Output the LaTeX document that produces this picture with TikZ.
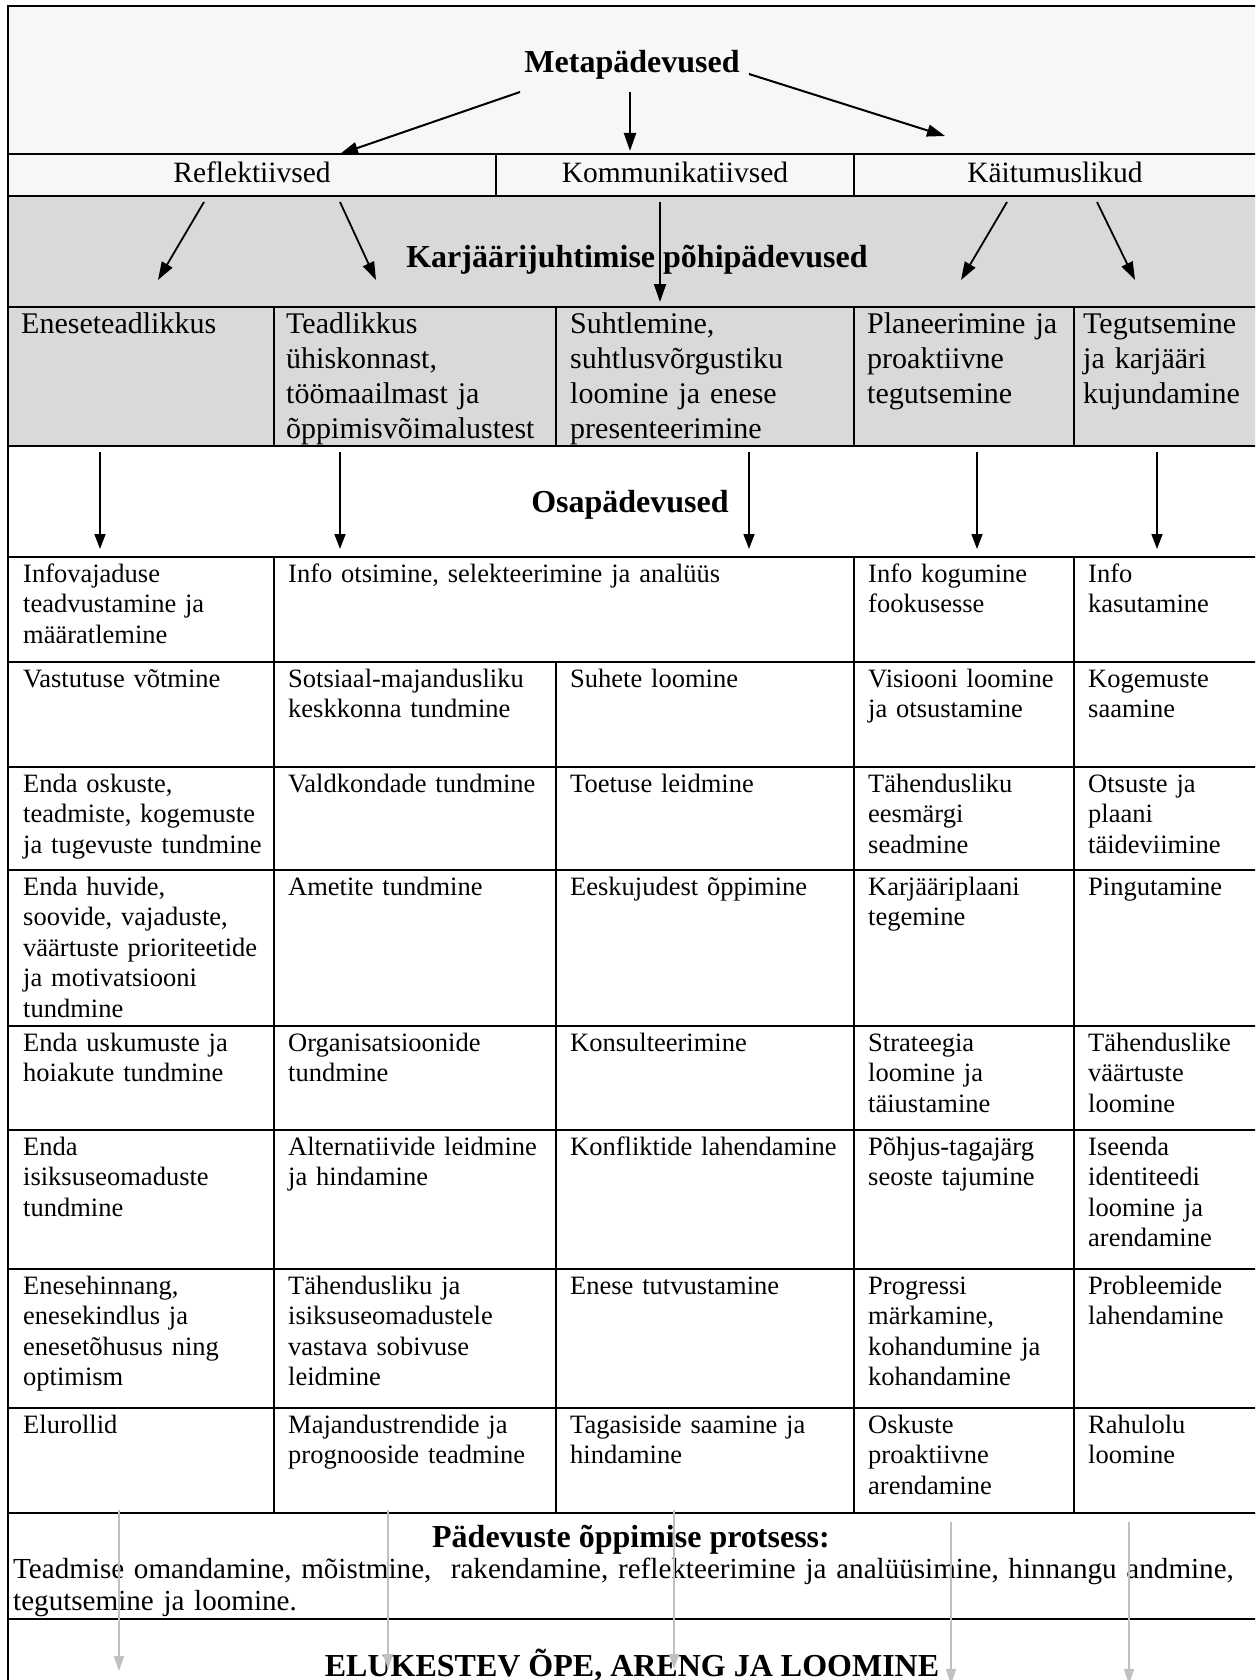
\documentclass[tikz,border=0pt]{standalone}
\usepackage{fontspec}
\setmainfont{Liberation Serif}
\usetikzlibrary{arrows.meta,positioning}

\definecolor{metagray}{HTML}{F7F7F7}
\definecolor{pohigray}{HTML}{D9D9D9}
\definecolor{protsgray}{HTML}{C0C0C0}

\newcommand{\bodyfont}{\fontsize{26.5}{30.6}\selectfont}
\newcommand{\headfont}{\fontsize{30}{35}\selectfont}
\newcommand{\titlefont}{\fontsize{32}{36}\selectfont\bfseries}

\begin{document}
\begin{tikzpicture}[x=1pt,y=-1pt,
  hline/.style={line width=2.4pt},
  vline/.style={line width=1.6pt},
  cell/.style={anchor=base west,inner sep=0pt,align=left,text width=300pt,font=\bodyfont},
  headcell/.style={anchor=base west,inner sep=0pt,align=left,text width=300pt,font=\headfont},
  title/.style={anchor=base,inner sep=0pt,font=\titlefont},
  blackarrow/.style={line width=2pt,-{Triangle[length=18pt,width=12pt]}},
  osaarrow/.style={line width=1.6pt,-{Triangle[length=15pt,width=11pt]}},
  protsarrow/.style={draw=protsgray,line width=1.8pt,-{Triangle[length=15pt,width=10pt]}}]
  \useasboundingbox (0,0) rectangle (1255,1680);
  \clip (0,0) rectangle (1255,1680);

  % backgrounds
  \fill[white] (0,0) rectangle (1255,1680);
  \fill[metagray] (8,6) rectangle (1262,196);
  \fill[pohigray] (8,196) rectangle (1262,446);

  % table lines
  \foreach \y in {6,154,196,446,557,662,767,870,1026,1130,1269,1408,1513,1619}
    \draw[hline] (8,\y) -- (1262,\y);
  \draw[vline] (8,307) -- (1262,307);
  \draw[line width=2.2pt] (8,5) -- (8,1685);
  \draw[vline] (496,154) -- (496,196);
  \draw[vline] (854,154) -- (854,196);
  \foreach \x in {274,556,854,1074}
    \draw[vline] (\x,307) -- (\x,446);
  \draw[vline] (274,557) -- (274,1513);
  \draw[vline] (556,662) -- (556,1513);
  \draw[vline] (854,557) -- (854,1513);
  \draw[vline] (1074,557) -- (1074,1513);

  % titles
  \node[title] (meta) at (632,73) {Metapädevused};
  \node[anchor=base,inner sep=0pt,font=\fontsize{29.5}{34}\selectfont] (refl) at (252,183) {Reflektiivsed};
  \node[anchor=base,inner sep=0pt,font=\fontsize{29.5}{34}\selectfont] (komm) at (675,183) {Kommunikatiivsed};
  \node[anchor=base,inner sep=0pt,font=\fontsize{29.5}{34}\selectfont] (kait) at (1055,183) {Käitumuslikud};
  \node[title] (pohi) at (637,267) {Karjäärijuhtimise põhipädevused};
  \node[title] (osa) at (630,512) {Osapädevused};

  % pohipadevused
  \node[headcell] (p1) at (21,333) {Eneseteadlikkus};
  \node[headcell] (p2) at (286,333) {Teadlikkus\\ühiskonnast,\\töömaailmast ja\\õppimisvõimalustest};
  \node[headcell] (p3) at (570,333) {Suhtlemine,\\suhtlusvõrgustiku\\loomine ja enese\\presenteerimine};
  \node[headcell] (p4) at (867,333) {Planeerimine ja\\proaktiivne\\tegutsemine};
  \node[headcell] (p5) at (1083,333) {Tegutsemine\\ja karjääri\\kujundamine};

  % osapadevused
  \node[cell] (a1) at (23,582) {Infovajaduse\\teadvustamine ja\\määratlemine};
  \node[cell,text width=560pt] (a2) at (288,582) {Info otsimine, selekteerimine ja analüüs};
  \node[cell] (a4) at (868,582) {Info kogumine\\fookusesse};
  \node[cell] (a5) at (1088,582) {Info\\kasutamine};

  \node[cell] (b1) at (23,687) {Vastutuse võtmine};
  \node[cell] (b2) at (288,687) {Sotsiaal-majandusliku\\keskkonna tundmine};
  \node[cell] (b3) at (570,687) {Suhete loomine};
  \node[cell] (b4) at (868,687) {Visiooni loomine\\ja otsustamine};
  \node[cell] (b5) at (1088,687) {Kogemuste\\saamine};

  \node[cell] (c1) at (23,792) {Enda oskuste,\\teadmiste, kogemuste\\ja tugevuste tundmine};
  \node[cell] (c2) at (288,792) {Valdkondade tundmine};
  \node[cell] (c3) at (570,792) {Toetuse leidmine};
  \node[cell] (c4) at (868,792) {Tähendusliku\\eesmärgi\\seadmine};
  \node[cell] (c5) at (1088,792) {Otsuste ja\\plaani\\täideviimine};

  \node[cell] (d1) at (23,895) {Enda huvide,\\soovide, vajaduste,\\väärtuste prioriteetide\\ja motivatsiooni\\tundmine};
  \node[cell] (d2) at (288,895) {Ametite tundmine};
  \node[cell] (d3) at (570,895) {Eeskujudest õppimine};
  \node[cell] (d4) at (868,895) {Karjääriplaani\\tegemine};
  \node[cell] (d5) at (1088,895) {Pingutamine};

  \node[cell] (e1) at (23,1051) {Enda uskumuste ja\\hoiakute tundmine};
  \node[cell] (e2) at (288,1051) {Organisatsioonide\\tundmine};
  \node[cell] (e3) at (570,1051) {Konsulteerimine};
  \node[cell] (e4) at (868,1051) {Strateegia\\loomine ja\\täiustamine};
  \node[cell] (e5) at (1088,1051) {Tähenduslike\\väärtuste\\loomine};

  \node[cell] (f1) at (23,1155) {Enda\\isiksuseomaduste\\tundmine};
  \node[cell] (f2) at (288,1155) {Alternatiivide leidmine\\ja hindamine};
  \node[cell] (f3) at (570,1155) {Konfliktide lahendamine};
  \node[cell] (f4) at (868,1155) {Põhjus-tagajärg\\seoste tajumine};
  \node[cell] (f5) at (1088,1155) {Iseenda\\identiteedi\\loomine ja\\arendamine};

  \node[cell] (g1) at (23,1294) {Enesehinnang,\\enesekindlus ja\\enesetõhusus ning\\optimism};
  \node[cell] (g2) at (288,1294) {Tähendusliku ja\\isiksuseomadustele\\vastava sobivuse\\leidmine};
  \node[cell] (g3) at (570,1294) {Enese tutvustamine};
  \node[cell] (g4) at (868,1294) {Progressi\\märkamine,\\kohandumine ja\\kohandamine};
  \node[cell] (g5) at (1088,1294) {Probleemide\\lahendamine};

  \node[cell] (h1) at (23,1433) {Elurollid};
  \node[cell] (h2) at (288,1433) {Majandustrendide ja\\prognooside teadmine};
  \node[cell] (h3) at (570,1433) {Tagasiside saamine ja\\hindamine};
  \node[cell] (h4) at (868,1433) {Oskuste\\proaktiivne\\arendamine};
  \node[cell] (h5) at (1088,1433) {Rahulolu\\loomine};

  % protsess
  \node[title] (prots) at (631,1547) {Pädevuste õppimise protsess:};
  \node[cell,text width=1250pt,font=\fontsize{29.1}{32}\selectfont] (protstxt) at (13,1578) {Teadmise omandamine, mõistmine,\ \ rakendamine, reflekteerimine ja analüüsimine, hinnangu andmine,\\tegutsemine ja loomine.};
  \node[title] (elu) at (632,1676) {ELUKESTEV ÕPE, ARENG JA LOOMINE};

  % arrows
  \coordinate (meta-l) at (520,92);  \coordinate (refl-t) at (340,154);
  \coordinate (meta-m) at (630,92);  \coordinate (komm-t) at (630,151);
  \coordinate (meta-r) at (749,74);  \coordinate (kait-t) at (945,136);
  \draw[blackarrow] (meta-l) -- (refl-t);
  \draw[blackarrow] (meta-m) -- (komm-t);
  \draw[blackarrow] (meta-r) -- (kait-t);

  \foreach \n/\xa/\xb/\yb in {1/204/158/280, 2/340/376/280, 3/660/660/302, 4/1007/961/280, 5/1097/1135/280} {
    \coordinate (pohi-s\n) at (\xa,202);
    \coordinate (pohi-e\n) at (\xb,\yb);
    \draw[blackarrow,line width=1.8pt] (pohi-s\n) -- (pohi-e\n);
  }

  \foreach \n/\x in {1/100,2/340,3/749,4/977,5/1157} {
    \coordinate (osa-s\n) at (\x,452);
    \coordinate (osa-e\n) at (\x,549);
    \draw[osaarrow] (osa-s\n) -- (osa-e\n);
  }

  \foreach \n/\x/\ya/\yb in {1/119/1510/1671, 2/388/1510/1669, 3/674/1510/1669, 4/951/1522/1684, 5/1129/1522/1684} {
    \coordinate (prots-s\n) at (\x,\ya);
    \coordinate (prots-e\n) at (\x,\yb);
    \draw[protsarrow] (prots-s\n) -- (prots-e\n);
  }
\end{tikzpicture}
\end{document}
